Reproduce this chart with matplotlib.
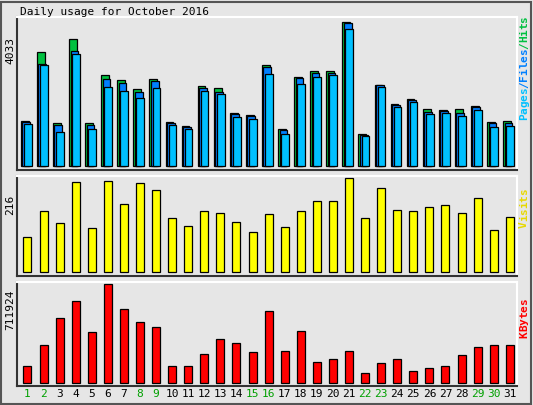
import matplotlib
matplotlib.use("Agg")
import matplotlib.pyplot as plt
from matplotlib.patches import Rectangle

days = list(range(1, 32))
weekend = [1, 2, 8, 9, 15, 16, 22, 23, 29, 30]
hits = [1252, 3198, 1196, 3560, 1196, 2559, 2401, 2151, 2447, 1224, 1112, 2253, 2197, 1474, 1418, 2837,
        1029, 2503, 2651, 2651, 4033, 890, 2281, 1752, 1891, 1585, 1557, 1585, 1696, 1224, 1252]
files = [1224, 2865, 1140, 3226, 1140, 2447, 2336, 2086, 2392, 1196, 1085, 2197, 2086, 1446, 1391, 2781,
         1001, 2475, 2614, 2614, 4005, 862, 2281, 1724, 1863, 1502, 1530, 1474, 1641, 1196, 1196]
pages = [1168, 2840, 946, 3143, 1029, 2225, 2114, 1919, 2197, 1140, 1029, 2114, 2030, 1363, 1307, 2586,
         890, 2308, 2503, 2559, 3838, 834, 2225, 1641, 1808, 1446, 1474, 1391, 1557, 1085, 1112]
visits = [80, 141, 113, 207, 101, 209, 157, 204, 188, 124, 106, 141, 136, 115, 92, 134,
          103, 139, 162, 164, 216, 124, 193, 143, 141, 150, 153, 136, 171, 96, 127]
kbytes = [120000, 277000, 465000, 592000, 367000, 711924, 532000, 442000, 405000, 120000, 120000,
          210000, 315000, 285000, 225000, 517000, 232000, 375000, 150000, 172000, 232000, 75000,
          142000, 172000, 90000, 112000, 120000, 202000, 262000, 277000, 277000]

W, H = 533, 405
BG = "#e6e6e6"
fig = plt.figure(figsize=(W / 100, H / 100), dpi=100, facecolor=BG)
mono = "DejaVu Sans Mono"

fig.patches.append(Rectangle((1 / W, 1 / H), (W - 3) / W, (H - 3) / H, transform=fig.transFigure,
                             fill=False, edgecolor="#555555", lw=1.5))

def mkax(y0, y1):
    ax = fig.add_axes([17 / W, 1 - y1 / H, 500 / W, (y1 - y0) / H])
    ax.set_facecolor(BG)
    ax.set_xlim(0.35, 31.45)
    ax.set_xticks([])
    ax.set_yticks([])
    for s in ["left", "bottom"]:
        ax.spines[s].set_color("#333333"); ax.spines[s].set_linewidth(1.5)
    for s in ["right", "top"]:
        ax.spines[s].set_color("#ffffff"); ax.spines[s].set_linewidth(1.5)
    return ax

ax1 = mkax(17, 170)
ax1.set_ylim(-110, 4033 * 1.035)
x = days
ax1.bar([d - 0.17 for d in x], hits, width=0.48, color="#00c040", edgecolor="black", lw=0.9)
ax1.bar([d - 0.08 for d in x], files, width=0.48, color="#0080ff", edgecolor="black", lw=0.9)
ax1.bar([d + 0.02 for d in x], pages, width=0.48, color="#00c0ff", edgecolor="black", lw=0.9)

ax2 = mkax(176, 276)
ax2.set_ylim(-9, 216 * 1.02)
ax2.bar(x, visits, width=0.5, color="#ffff00", edgecolor="black", lw=0.9)

ax3 = mkax(282, 386)
ax3.set_ylim(-20000, 711924 * 1.02)
ax3.bar(x, kbytes, width=0.5, color="#ff0000", edgecolor="black", lw=0.9)

fig.text(20 / W, 1 - 12 / H, "Daily usage for October 2016", fontsize=8, family=mono, va="center")
fig.text(10 / W, 1 - 50 / H, "4033", fontsize=8, family=mono, rotation=90, ha="center", va="center")
fig.text(10 / W, 1 - 205 / H, "216", fontsize=8, family=mono, rotation=90, ha="center", va="center")
fig.text(10 / W, 1 - 310 / H, "711924", fontsize=8, family=mono, rotation=90, ha="center", va="center")

def rlabel(parts, ycenter, step=6.5):
    chars = [(ch, c) for t, c in parts for ch in t]
    n = len(chars)
    y = ycenter + (n - 1) * step / 2
    for ch, c in chars:
        fig.text(524 / W, 1 - y / H, ch, fontsize=8, family=mono, rotation=90, color=c,
                 ha="center", va="center", fontweight="bold")
        y -= step

rlabel([("Pages", "#00c0ff"), ("/", "#0080ff"), ("Files", "#0080ff"), ("/", "#00c040"), ("Hits", "#00c040")], 68)
rlabel([("Visits", "#e6d800")], 208)
rlabel([("KBytes", "#ff0000")], 318)

for d in days:
    xp = ax3.transData.transform((d, 0))[0]
    fig.text(xp / W, 1 - 394 / H, str(d), fontsize=8, family=mono, ha="center", va="center",
             color="#00a000" if d in weekend else "black")

fig.savefig("out.png", dpi=100, facecolor=BG)
